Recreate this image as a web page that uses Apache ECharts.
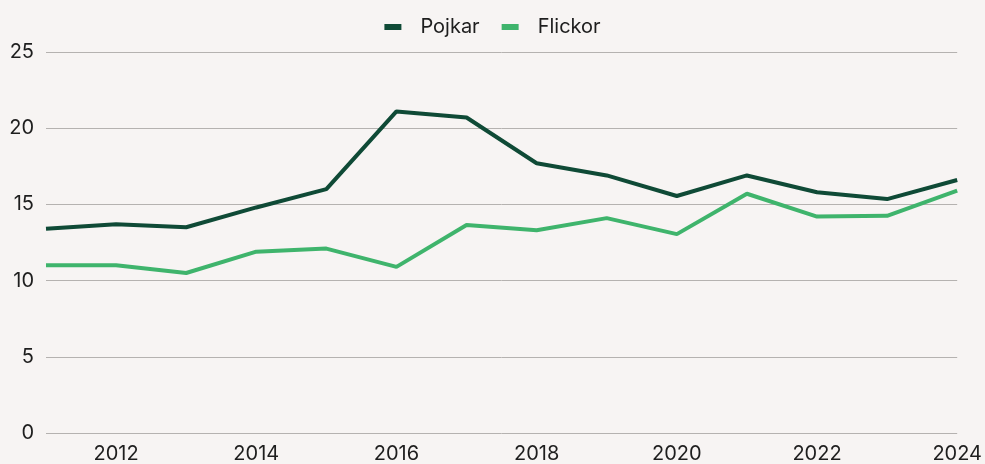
<!DOCTYPE html>
<html>
<head>
<meta charset="utf-8">
<script src="https://cdn.jsdelivr.net/npm/echarts@6/dist/echarts.min.js"></script>
<style>
  html, body { margin: 0; padding: 0; background: #f7f4f3; }
  #chart { width: 985px; height: 464px; }
</style>
</head>
<body>
<div id="chart"></div>
<script>
const years = ['2011', '2012', '2013', '2014', '2015', '2016', '2017', '2018', '2019', '2020', '2021', '2022', '2023', '2024']
const pojkar = [13.4, 13.7, 13.5, 14.8, 16.0, 21.1, 20.7, 17.7, 16.9, 15.55, 16.9, 15.8, 15.35, 16.6]
const flickor = [11.0, 11.0, 10.5, 11.9, 12.1, 10.9, 13.65, 13.3, 14.1, 13.05, 15.7, 14.2, 14.25, 15.9]

const textFont = { fontFamily: 'Inter', fontSize: 20, color: '#1e1e1e' }

const chart = echarts.init(document.getElementById('chart'))
chart.setOption({
    backgroundColor: '#f7f4f3',
    animation: false,
    legend: {
        top: 12,
        left: 'center',
        icon: 'rect',
        itemWidth: 17,
        itemHeight: 6,
        itemGap: 22,
        textStyle: { ...textFont, padding: [0, 0, 0, 14] },
        data: ['Pojkar', 'Flickor']
    },
    grid: { left: 46, right: 27, top: 52, bottom: 31 },
    xAxis: {
        type: 'category',
        data: years,
        boundaryGap: false,
        axisLine: { show: false },
        axisTick: { show: false },
        axisLabel: {
            ...textFont,
            margin: 11,
            interval: (i) => i % 2 === 1
        }
    },
    yAxis: {
        type: 'value',
        min: 0,
        max: 25,
        interval: 5,
        axisLabel: { ...textFont, margin: 12 },
        splitLine: { lineStyle: { color: '#b5b2b0', width: 1 } }
    },
    series: [
        {
            name: 'Pojkar',
            type: 'line',
            data: pojkar,
            symbol: 'none',
            lineStyle: { color: '#0f4a36', width: 4 },
            itemStyle: { color: '#0f4a36' }
        },
        {
            name: 'Flickor',
            type: 'line',
            data: flickor,
            symbol: 'none',
            lineStyle: { color: '#3fb46c', width: 4 },
            itemStyle: { color: '#3fb46c' }
        }
    ]
})
</script>
</body>
</html>
